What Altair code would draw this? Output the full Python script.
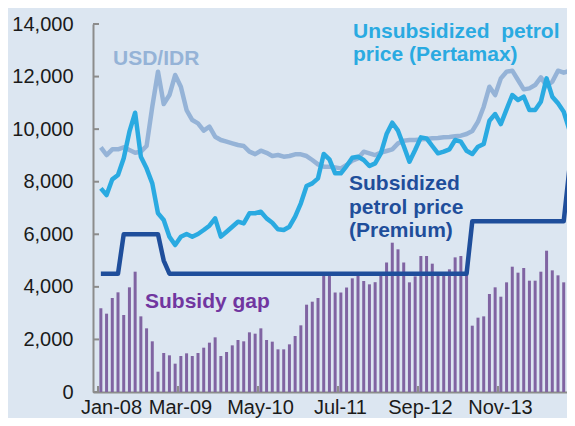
import altair as alt
import pandas as pd

# ---------------- data (monthly, Jan-08 .. Nov-14) ----------------
month_index = list(range(83))
tick_labels = ["Jan-08", "Mar-09", "May-10", "Jul-11", "Sep-12", "Nov-13"]
tick_positions = [0, 14, 28, 42, 56, 70]
y_ticks = [0, 2000, 4000, 6000, 8000, 10000, 12000, 14000]

usd_idr = [9308, 9015, 9231, 9231, 9308, 9206, 9104, 9142, 9358, 10854,
           12186, 10955, 11298, 12059, 11615, 10727, 10347, 10220, 9942, 10093,
           9713, 9586, 9523, 9459, 9396, 9358, 9142, 9050, 9180, 9100,
           8980, 9015, 8952, 8977, 9041, 9041, 8977, 8825, 8660, 8572,
           8572, 8546, 8508, 8635, 8800, 8888, 9142, 9079, 9015, 9104,
           9168, 9231, 9459, 9561, 9586, 9586, 9611, 9624, 9650, 9663,
           9688, 9701, 9726, 9751, 9814, 9929, 10284, 10854, 11615, 11298,
           11932, 12186, 12224, 11868, 11514, 11552, 11678, 11970, 11640, 11805,
           12224, 12147, 12224]

pertamax = [7748, 7494, 8090, 8255, 8889, 9903, 10626, 8952, 8508, 7938,
            6797, 6543, 5909, 5592, 5909, 6010, 5909, 6010, 6162, 6327,
            6606, 5909, 6099, 6289, 6479, 6416, 6797, 6800, 6860, 6606,
            6441, 6188, 6162, 6289, 6670, 7178, 7836, 7938, 8128, 9054,
            8851, 8318, 8318, 8597, 8914, 8952, 8825, 8597, 8698, 9079,
            9814, 10245, 9942, 9358, 8762, 9206, 9688, 9650, 9358, 9079,
            9142, 9231, 9586, 9523, 9180, 9054, 9333, 9434, 10321, 10575,
            10195, 10754, 11298, 11108, 11235, 10727, 10727, 11044, 11932, 11235,
            10982, 10663, 9967]

premium = [4500, 4500, 4500, 4500, 6000, 6000, 6000, 6000, 6000, 6000,
           6000, 5000, 4500, 4500, 4500, 4500, 4500, 4500, 4500, 4500,
           4500, 4500, 4500, 4500, 4500, 4500, 4500, 4500, 4500, 4500,
           4500, 4500, 4500, 4500, 4500, 4500, 4500, 4500, 4500, 4500,
           4500, 4500, 4500, 4500, 4500, 4500, 4500, 4500, 4500, 4500,
           4500, 4500, 4500, 4500, 4500, 4500, 4500, 4500, 4500, 4500,
           4500, 4500, 4500, 4500, 4500, 6500, 6500, 6500, 6500, 6500,
           6500, 6500, 6500, 6500, 6500, 6500, 6500, 6500, 6500, 6500,
           6500, 6500, 8500]

subsidy_gap = [3184, 2980, 3576, 3792, 2929, 3982, 4577, 2878, 2422, 1928,
               773, 1484, 1395, 1078, 1369, 1471, 1369, 1484, 1686, 1877,
               2080, 1369, 1522, 1775, 1978, 1928, 2270, 2219, 2422, 1978,
               1915, 1623, 1623, 1813, 2130, 2536, 3322, 3436, 3576, 4550,
               4550, 3785, 3785, 3975, 4324, 4450, 4222, 4096, 4178, 4450,
               4927, 5680, 5428, 4927, 4172, 4400, 5173, 5173, 4882, 4450,
               4450, 4667, 5122, 5173, 4450, 2523, 2828, 2878, 3728, 3982,
               3626, 4172, 4767, 4540, 4717, 4235, 4235, 4577, 5376, 4628,
               4438, 4172, 1408]

df = pd.DataFrame({"i": month_index, "usd": usd_idr, "pertamax": pertamax,
                   "premium": premium, "gap": subsidy_gap})

# ---------------- styling ----------------
FONT = "Liberation Sans, Arial, sans-serif"
BG = "#DCE6F1"
C_USD = "#95B3D7"
C_PERT = "#2AAAE1"
C_PREM = "#1F4E9B"
C_BAR = "#8064A2"
C_GAP_TXT = "#7136A0"
AXIS_GRAY = "#8C8C8C"

label_array = "[" + ",".join("'" + t + "'" for t in tick_labels) + "]"

xs = alt.Scale(domain=[0, 84], nice=False, zero=False)
ys = alt.Scale(domain=[0, 14000], nice=False)

x_axis = alt.Axis(values=tick_positions,
                  labelExpr=label_array + "[round(datum.value/14)]",
                  title=None, grid=False, ticks=False, tickSize=0,
                  labelFontSize=20, labelFont=FONT, labelColor="#1a1a1a",
                  labelPadding=5, labelFlush=False, labelOverlap=False,
                  labelBound=False,
                  labelOffset={"condition": {"test": "datum.value == 0", "value": 13},
                               "value": 2},
                  domainColor=AXIS_GRAY, domainWidth=2)
y_axis = alt.Axis(values=y_ticks, labelExpr="format(datum.value, ',')",
                  title=None, grid=False,
                  ticks=False, tickSize=0, labelFontSize=20, labelFont=FONT,
                  labelColor="#1a1a1a", labelPadding=20, labelFlush=False,
                  labelOverlap=False, labelBound=False,
                  domainColor=AXIS_GRAY, domainWidth=2)

base = alt.Chart(df).transform_calculate(xm="datum.i + 0.5")
X = alt.X("xm:Q", scale=xs, axis=x_axis)

bars = base.mark_bar(size=3, color=C_BAR).encode(
    x=X, y=alt.Y("gap:Q", scale=ys, axis=y_axis))

line_usd = base.mark_line(color=C_USD, strokeWidth=4.5, strokeJoin="round").encode(
    x=X, y=alt.Y("usd:Q", scale=ys, axis=y_axis))
line_pert = base.mark_line(color=C_PERT, strokeWidth=4.5, strokeJoin="round").encode(
    x=X, y=alt.Y("pertamax:Q", scale=ys, axis=y_axis))
line_prem = base.mark_line(color=C_PREM, strokeWidth=4.5, strokeJoin="round").encode(
    x=X, y=alt.Y("premium:Q", scale=ys, axis=y_axis))

# inward tick marks
xt = alt.Chart(pd.DataFrame({"t": tick_positions})).mark_rule(
    color=AXIS_GRAY, strokeWidth=2).encode(
    x=alt.X("t:Q", scale=xs, axis=x_axis), y=alt.value(362), y2=alt.value(368))
yt = alt.Chart(pd.DataFrame({"v": y_ticks})).mark_rule(
    color=AXIS_GRAY, strokeWidth=2).encode(
    y=alt.Y("v:Q", scale=ys, axis=y_axis), x=alt.value(0), x2=alt.value(6))

one = pd.DataFrame({"a": [0]})


def label(txt, x, y, color, lh=23):
    return alt.Chart(one).mark_text(
        text=txt, align="left", baseline="alphabetic", font=FONT,
        fontSize=21, fontWeight="bold", color=color, lineHeight=lh
    ).encode(x=alt.value(x), y=alt.value(y))


t_usd = label("USD/IDR", 20, 41, C_USD)
t_pert = label(["Unsubsidized\u00a0\u00a0petrol", "price (Pertamax)"], 260, 14, C_PERT)
t_prem = label(["Subsidized", "petrol price", "(Premium)"], 256, 166, C_PREM, lh=23.5)
t_gap = label("Subsidy gap", 52, 284, C_GAP_TXT)

chart = alt.layer(bars, line_usd, line_pert, line_prem, xt, yt,
                  t_usd, t_pert, t_prem, t_gap).properties(
    width=490, height=368,
    autosize=alt.AutoSizeParams(type="none"),
    padding={"left": 85, "top": 16, "right": -16, "bottom": 26},
    background=BG,
).configure_view(stroke=None)

chart.save("out.html", embed_options={"renderer": "svg", "actions": False})
